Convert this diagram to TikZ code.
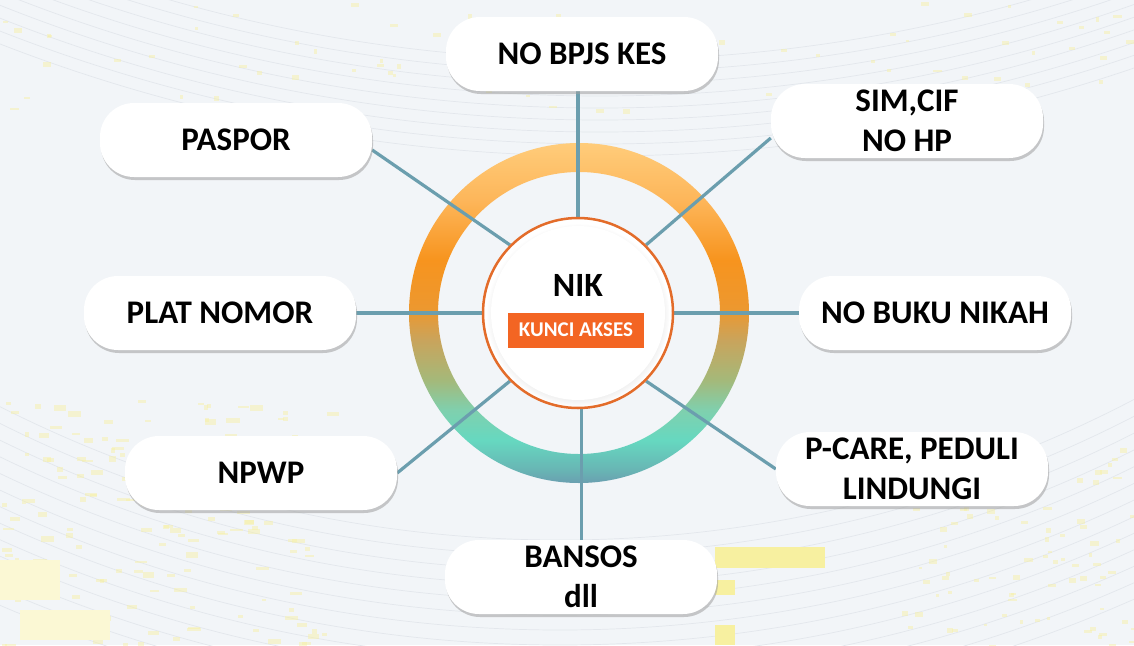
\documentclass[tikz,border=0pt]{standalone}
\usepackage{fontspec}
\setmainfont{Carlito}
\usetikzlibrary{shadows,fadings}

\definecolor{bgcol}{HTML}{F2F5F8}
\definecolor{linkcol}{HTML}{6B9EAE}
\definecolor{ringline}{HTML}{E36C2A}
\definecolor{kunciorange}{HTML}{F36523}
\definecolor{speckcol}{HTML}{F7F0A0}
\definecolor{arccol}{HTML}{E3E7EC}
\definecolor{rgA}{HTML}{6A9FB0}
\definecolor{rgB}{HTML}{68B5B4}
\definecolor{rgC}{HTML}{66D8C0}
\definecolor{rgD}{HTML}{7FD0AE}
\definecolor{rgE}{HTML}{A4B97A}
\definecolor{rgF}{HTML}{C9A45C}
\definecolor{rgG}{HTML}{EC9830}
\definecolor{rgH}{HTML}{F7941E}
\definecolor{rgI}{HTML}{FDB65A}
\definecolor{rgJ}{HTML}{FFCC7A}

\pgfdeclareverticalshading{ringgrad}{100bp}{color(0bp)=(rgA); color(25bp)=(rgA);
  color(26.9bp)=(rgB); color(31.3bp)=(rgC); color(35.7bp)=(rgD); color(40.1bp)=(rgE);
  color(46bp)=(rgF); color(50.4bp)=(rgG); color(57.8bp)=(rgH); color(66.6bp)=(rgI);
  color(75bp)=(rgJ); color(100bp)=(rgJ)}

\pgfdeclarelayer{back}
\pgfdeclarelayer{mid}
\pgfsetlayers{back,mid,main}

\tikzset{
  pill/.style={fill=white, rounded corners=34pt, minimum width=272pt, minimum height=74pt,
    inner sep=2pt, align=center, font=\fontsize{33}{40}\selectfont\bfseries,
    drop shadow={shadow xshift=1pt, shadow yshift=-3pt, opacity=0.55, fill=gray!75}},
  link/.style={draw=linkcol, line width=3.2pt},
  arcline/.style={draw=arccol, line width=0.7pt},
  speck/.style={fill=speckcol, opacity=0.45}
}

\begin{document}
\begin{tikzpicture}[x=1pt,y=-1pt]
    \useasboundingbox (0,0) rectangle (1134,645);

    \begin{pgfonlayer}{back}
    \begin{scope}
        \clip (0,0) rectangle (1134,645);
        \fill[bgcol] (0,0) rectangle (1134,645);
        \foreach \r in {1560,1572,...,1660}
            \draw[arcline] (600,-1500) circle (\r);
        \foreach \r in {1240,1255,...,1420}
            \draw[arcline] (560,-700) circle (\r);
        \pgfmathsetseed{11}
        \foreach \i in {1,...,160}
            \fill[speck] ({rnd*330},{400+rnd*245}) rectangle ++({4+rnd*10},{2+rnd*4});
        \foreach \i in {1,...,90}
            \fill[speck] ({880+rnd*254},{440+rnd*205}) rectangle ++({3+rnd*6},{2+rnd*3});
        \foreach \i in {1,...,70}
            \fill[speck] ({rnd*1134},{rnd*110}) rectangle ++({3+rnd*6},{2+rnd*3});
        \fill[speckcol] (715,547) rectangle (825,568);
        \fill[speckcol] (715,580) rectangle (735,595);
        \fill[speckcol] (715,625) rectangle (735,645);
        \fill[speckcol!45] (0,560) rectangle (60,600);
        \fill[speckcol!45] (20,610) rectangle (110,640);
    \end{scope}
    \shade[shading=ringgrad, even odd rule] (579,313) circle (170) (579,313) circle (141);
    \end{pgfonlayer}

    \node[circle, fill=white, draw=ringline, line width=2.5pt, minimum size=190pt, inner sep=0pt] (nik) at (578,313) {};
    \node[circle, fill=white, minimum size=174pt, inner sep=0pt,
        circular drop shadow={shadow scale=1.05, shadow xshift=0pt, shadow yshift=-2pt, opacity=0.35, fill=gray!60}] (nikin) at (nik) {};
    \node[anchor=base, font=\fontsize{34}{40}\selectfont\bfseries] (niktxt) at (578,296) {NIK};
    \node[fill=kunciorange, text=white, minimum width=136pt, minimum height=35pt, inner sep=0pt,
        font=\fontsize{21}{24}\selectfont\bfseries] (kunci) at (576,330) {KUNCI AKSES};

    \node[pill] (bpjs) at (582,54) {NO BPJS KES};
    \node[pill] (paspor) at (236,140) {PASPOR};
    \node[pill] (sim) at (907,121) {SIM,CIF\\NO HP};
    \node[pill] (plat) at (220,313) {PLAT NOMOR};
    \node[pill] (nikah) at (935,313) {NO BUKU NIKAH};
    \node[pill] (npwp) at (261,473) {NPWP};
    \node[pill] (pcare) at (912,469) {P-CARE, PEDULI\\LINDUNGI};
    \node[pill] (bansos) at (581,577) {BANSOS\\dll};

    \begin{pgfonlayer}{mid}
    \draw[link] (nik.north) -- (nik.north |- bpjs.south);
    \draw[link] ([yshift=-10pt]paspor.east) -- (nik.135);
    \draw[link] ([yshift=-17pt]sim.west) -- (nik.45);
    \draw[link] (plat.east) -- (nik.west);
    \draw[link] (nik.east) -- (nikah.west);
    \draw[link] (npwp.east) -- (nik.-135);
    \draw[link] (pcare.west) -- (nik.-45);
    \draw[link] (nik.-88) -- (nik.-88 |- bansos.north);
    \end{pgfonlayer}
\end{tikzpicture}
\end{document}
